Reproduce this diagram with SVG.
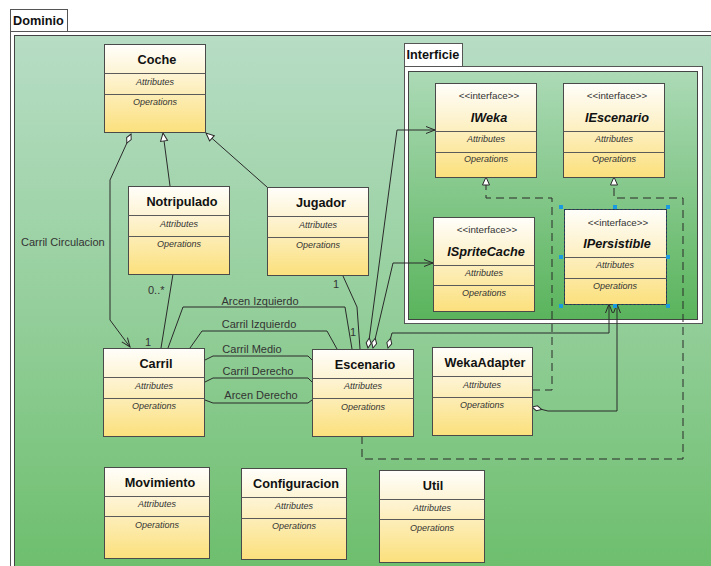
<svg xmlns="http://www.w3.org/2000/svg" width="711" height="566" viewBox="0 0 711 566">
  <style>
    .box { stroke: #4a4a4a; stroke-width: 1; fill: url(#classFill); }
    .div { stroke: #5a5a5a; stroke-width: 1; }
    .title { font-family: "Liberation Sans", Arial, sans-serif; font-size: 12.7px; font-weight: bold; fill: #111; text-anchor: middle; }
    .ititle { font-family: "Liberation Sans", Arial, sans-serif; font-size: 12.7px; font-weight: bold; font-style: italic; fill: #111; text-anchor: middle; }
    .comp { font-family: "Liberation Sans", Arial, sans-serif; font-size: 9px; font-style: italic; fill: #333; text-anchor: middle; }
    .stereo { font-family: "Liberation Sans", Arial, sans-serif; font-size: 9.8px; fill: #333; text-anchor: middle; }
    .lbl { font-family: "Liberation Sans", Arial, sans-serif; font-size: 11px; fill: #333; }
    .mid { text-anchor: middle; }
    .tab { font-family: "Liberation Sans", Arial, sans-serif; font-size: 12.7px; font-weight: bold; fill: #111; }
    .edge { fill: none; stroke: #2a2a2a; stroke-width: 1; }
    .dash { fill: none; stroke: #2a2a2a; stroke-width: 1; stroke-dasharray: 8 5; }
    .handle { fill: #1a9be0; }
  </style>
  <defs>
    <linearGradient id="bgFill" x1="0" y1="0" x2="0" y2="1">
      <stop offset="0" stop-color="#b7ddc5"/>
      <stop offset="0.5" stop-color="#95cf9c"/>
      <stop offset="1" stop-color="#6cbe6c"/>
    </linearGradient>
    <linearGradient id="pkgFill" x1="0" y1="0" x2="0" y2="1">
      <stop offset="0" stop-color="#acdab6"/>
      <stop offset="1" stop-color="#5ab45c"/>
    </linearGradient>
    <linearGradient id="classFill" x1="0" y1="0" x2="0" y2="1">
      <stop offset="0" stop-color="#fffefa"/>
      <stop offset="0.4" stop-color="#fdf2cc"/>
      <stop offset="1" stop-color="#fbe07c"/>
    </linearGradient>
    <marker id="tri" markerUnits="userSpaceOnUse" markerWidth="10" markerHeight="9" refX="8" refY="3.5" orient="auto" overflow="visible">
      <path d="M0,0 L8,3.5 L0,7 z" fill="#fff" stroke="#2a2a2a" stroke-width="1"/>
    </marker>
    <marker id="arrow" markerUnits="userSpaceOnUse" markerWidth="10" markerHeight="9" refX="9" refY="3.5" orient="auto" overflow="visible">
      <path d="M0,0 L9,3.5 L0,7" fill="none" stroke="#2a2a2a" stroke-width="1"/>
    </marker>
    <marker id="diamond" markerUnits="userSpaceOnUse" markerWidth="10" markerHeight="6" refX="0" refY="3" orient="auto" overflow="visible">
      <path d="M0,3 L5,0.5 L10,3 L5,5.5 z" fill="#fff" stroke="#2a2a2a" stroke-width="1"/>
    </marker>
  </defs>

  <!-- page background -->
  <rect x="0" y="0" width="711" height="566" fill="#ffffff"/>

  <!-- Dominio package frame -->
  <g id="pkg-dominio">
    <rect x="10.5" y="9.5" width="57" height="22" fill="#fff" stroke="#555"/>
    <text class="tab" x="13" y="25">Dominio</text>
    <rect x="10.5" y="31.5" width="710" height="540" fill="#fff" stroke="#555"/>
    <rect x="14.5" y="35.5" width="710" height="540" fill="url(#bgFill)" stroke="#444"/>
  </g>

  <!-- Interficie package frame -->
  <g id="pkg-interficie">
    <rect x="404.5" y="43.5" width="58" height="23" fill="#fff" stroke="#555"/>
    <text class="tab" x="406.5" y="59">Interficie</text>
    <rect x="404.5" y="66.5" width="298" height="257" fill="#fff" stroke="#555"/>
    <rect x="408.5" y="71.5" width="289" height="248" fill="url(#pkgFill)" stroke="#444"/>
  </g>

  <!-- connectors -->
  <g id="connectors">
    <path class="edge" d="M131,134 L110,180 L110,320 L130,347" marker-start="url(#diamond)" marker-end="url(#arrow)"/>
    <path class="edge" d="M170,186 L163,133" marker-end="url(#tri)"/>
    <path class="edge" d="M267,187 L206,133" marker-end="url(#tri)"/>
    <path class="edge" d="M173,274 L161,348"/>
    <path class="edge" d="M168,348 L183,307 L345,307 L352,349"/>
    <path class="edge" d="M190,348 L202,331 L327,331 L337,349"/>
    <path class="edge" d="M205,360 L213,356 L308,356 L312,360"/>
    <path class="edge" d="M205,382 L213,378 L308,378 L312,382"/>
    <path class="edge" d="M205,400 L213,403 L308,403 L312,400"/>
    <path class="edge" d="M343,276 L357,307 L360,349"/>
    <path class="edge" d="M368,348 L397,130 L435,130" marker-start="url(#diamond)" marker-end="url(#arrow)"/>
    <path class="edge" d="M373,348 L393,263 L433,263" marker-start="url(#diamond)" marker-end="url(#arrow)"/>
    <path class="edge" d="M388,348 L392,333 L609,333 L609,304" marker-start="url(#diamond)" marker-end="url(#arrow)"/>
    <path class="edge" d="M532,407 L548,411 L617,411 L617,304" marker-start="url(#diamond)" marker-end="url(#arrow)"/>
    <path class="dash" d="M532,390 L552,390 L552,198 L486,198 L486,177" marker-end="url(#tri)"/>
    <path class="dash" d="M362,436 L362,459 L683,459 L683,198 L614,198 L614,177" marker-end="url(#tri)"/>

    <text class="lbl" x="21" y="246">Carril Circulacion</text>
    <text class="lbl" x="148" y="294">0..*</text>
    <text class="lbl" x="145" y="346">1</text>
    <text class="lbl" x="333" y="288">1</text>
    <text class="lbl" x="350" y="336">1</text>
    <text class="lbl mid" x="260" y="305">Arcen Izquierdo</text>
    <text class="lbl mid" x="259" y="328">Carril Izquierdo</text>
    <text class="lbl mid" x="252" y="353">Carril Medio</text>
    <text class="lbl mid" x="258" y="375">Carril Derecho</text>
    <text class="lbl mid" x="261" y="399">Arcen Derecho</text>
  </g>

  <!-- classes -->
  <g id="Coche">
    <rect class="box" x="104.5" y="44.5" width="101" height="88"/>
    <line class="div" x1="104.5" y1="73.5" x2="205.5" y2="73.5"/>
    <line class="div" x1="104.5" y1="94.5" x2="205.5" y2="94.5"/>
    <text class="title" x="157" y="64">Coche</text>
    <text class="comp" x="155" y="85">Attributes</text>
    <text class="comp" x="155" y="105">Operations</text>
  </g>

  <g id="Notripulado">
    <rect class="box" x="128.5" y="186.5" width="101" height="88"/>
    <line class="div" x1="128.5" y1="215.5" x2="229.5" y2="215.5"/>
    <line class="div" x1="128.5" y1="236.5" x2="229.5" y2="236.5"/>
    <text class="title" x="182" y="206">Notripulado</text>
    <text class="comp" x="179" y="227">Attributes</text>
    <text class="comp" x="179" y="247">Operations</text>
  </g>

  <g id="Jugador">
    <rect class="box" x="267.5" y="187.5" width="101" height="88"/>
    <line class="div" x1="267.5" y1="216.5" x2="368.5" y2="216.5"/>
    <line class="div" x1="267.5" y1="237.5" x2="368.5" y2="237.5"/>
    <text class="title" x="321" y="207">Jugador</text>
    <text class="comp" x="318" y="228">Attributes</text>
    <text class="comp" x="318" y="248">Operations</text>
  </g>

  <g id="Carril">
    <rect class="box" x="103.5" y="348.5" width="101" height="88"/>
    <line class="div" x1="103.5" y1="377.5" x2="204.5" y2="377.5"/>
    <line class="div" x1="103.5" y1="398.5" x2="204.5" y2="398.5"/>
    <text class="title" x="156" y="368">Carril</text>
    <text class="comp" x="154" y="389">Attributes</text>
    <text class="comp" x="154" y="409">Operations</text>
  </g>

  <g id="Escenario">
    <rect class="box" x="312.5" y="349.5" width="101" height="87"/>
    <line class="div" x1="312.5" y1="378.5" x2="413.5" y2="378.5"/>
    <line class="div" x1="312.5" y1="398.5" x2="413.5" y2="398.5"/>
    <text class="title" x="365" y="369">Escenario</text>
    <text class="comp" x="363" y="389">Attributes</text>
    <text class="comp" x="363" y="410">Operations</text>
  </g>

  <g id="WekaAdapter">
    <rect class="box" x="432.5" y="347.5" width="100" height="88"/>
    <line class="div" x1="432.5" y1="376.5" x2="532.5" y2="376.5"/>
    <line class="div" x1="432.5" y1="397.5" x2="532.5" y2="397.5"/>
    <text class="title" x="485" y="367">WekaAdapter</text>
    <text class="comp" x="482" y="388">Attributes</text>
    <text class="comp" x="482" y="408">Operations</text>
  </g>

  <g id="Movimiento">
    <rect class="box" x="104.5" y="467.5" width="105" height="91"/>
    <line class="div" x1="104.5" y1="496.5" x2="209.5" y2="496.5"/>
    <line class="div" x1="104.5" y1="516.5" x2="209.5" y2="516.5"/>
    <text class="title" x="160" y="487">Movimiento</text>
    <text class="comp" x="157" y="507">Attributes</text>
    <text class="comp" x="157" y="528">Operations</text>
  </g>

  <g id="Configuracion">
    <rect class="box" x="241.5" y="468.5" width="105" height="91"/>
    <line class="div" x1="241.5" y1="497.5" x2="346.5" y2="497.5"/>
    <line class="div" x1="241.5" y1="518.5" x2="346.5" y2="518.5"/>
    <text class="title" x="296" y="488">Configuracion</text>
    <text class="comp" x="294" y="509">Attributes</text>
    <text class="comp" x="294" y="529">Operations</text>
  </g>

  <g id="Util">
    <rect class="box" x="379.5" y="470.5" width="105" height="92"/>
    <line class="div" x1="379.5" y1="499.5" x2="484.5" y2="499.5"/>
    <line class="div" x1="379.5" y1="519.5" x2="484.5" y2="519.5"/>
    <text class="title" x="433" y="490">Util</text>
    <text class="comp" x="432" y="511">Attributes</text>
    <text class="comp" x="432" y="531">Operations</text>
  </g>

  <!-- interfaces -->
  <g id="IWeka">
    <rect class="box" x="435.5" y="83.5" width="101" height="94"/>
    <line class="div" x1="435.5" y1="131.5" x2="536.5" y2="131.5"/>
    <line class="div" x1="435.5" y1="152.5" x2="536.5" y2="152.5"/>
    <text class="stereo" x="489" y="99">&lt;&lt;interface&gt;&gt;</text>
    <text class="ititle" x="489" y="122">IWeka</text>
    <text class="comp" x="486" y="142">Attributes</text>
    <text class="comp" x="486" y="162">Operations</text>
  </g>

  <g id="IEscenario">
    <rect class="box" x="563.5" y="83.5" width="101" height="94"/>
    <line class="div" x1="563.5" y1="131.5" x2="664.5" y2="131.5"/>
    <line class="div" x1="563.5" y1="152.5" x2="664.5" y2="152.5"/>
    <text class="stereo" x="617" y="99">&lt;&lt;interface&gt;&gt;</text>
    <text class="ititle" x="617" y="122">IEscenario</text>
    <text class="comp" x="614" y="142">Attributes</text>
    <text class="comp" x="614" y="162">Operations</text>
  </g>

  <g id="ISpriteCache">
    <rect class="box" x="433.5" y="217.5" width="101" height="94"/>
    <line class="div" x1="433.5" y1="265.5" x2="534.5" y2="265.5"/>
    <line class="div" x1="433.5" y1="285.5" x2="534.5" y2="285.5"/>
    <text class="stereo" x="487" y="233">&lt;&lt;interface&gt;&gt;</text>
    <text class="ititle" x="486" y="256">ISpriteCache</text>
    <text class="comp" x="484" y="276">Attributes</text>
    <text class="comp" x="484" y="296">Operations</text>
  </g>

  <g id="IPersistible">
    <rect class="box" x="564.5" y="209.5" width="102" height="95"/>
    <line class="div" x1="564.5" y1="257.5" x2="666.5" y2="257.5"/>
    <line class="div" x1="564.5" y1="278.5" x2="666.5" y2="278.5"/>
    <rect x="564.5" y="209.5" width="102" height="95" fill="none" stroke="#1a3a5a" stroke-width="1" stroke-dasharray="2 2"/>
    <text class="stereo" x="618" y="226">&lt;&lt;interface&gt;&gt;</text>
    <text class="ititle" x="617" y="248">IPersistible</text>
    <text class="comp" x="615" y="268">Attributes</text>
    <text class="comp" x="615" y="289">Operations</text>
    <rect class="handle" x="559" y="205" width="4" height="4"/>
    <rect class="handle" x="613" y="205" width="4" height="4"/>
    <rect class="handle" x="666" y="205" width="4" height="4"/>
    <rect class="handle" x="559" y="255" width="4" height="4"/>
    <rect class="handle" x="666" y="255" width="4" height="4"/>
    <rect class="handle" x="559" y="304" width="4" height="4"/>
    <rect class="handle" x="613" y="304" width="4" height="4"/>
    <rect class="handle" x="666" y="304" width="4" height="4"/>
  </g>
</svg>
